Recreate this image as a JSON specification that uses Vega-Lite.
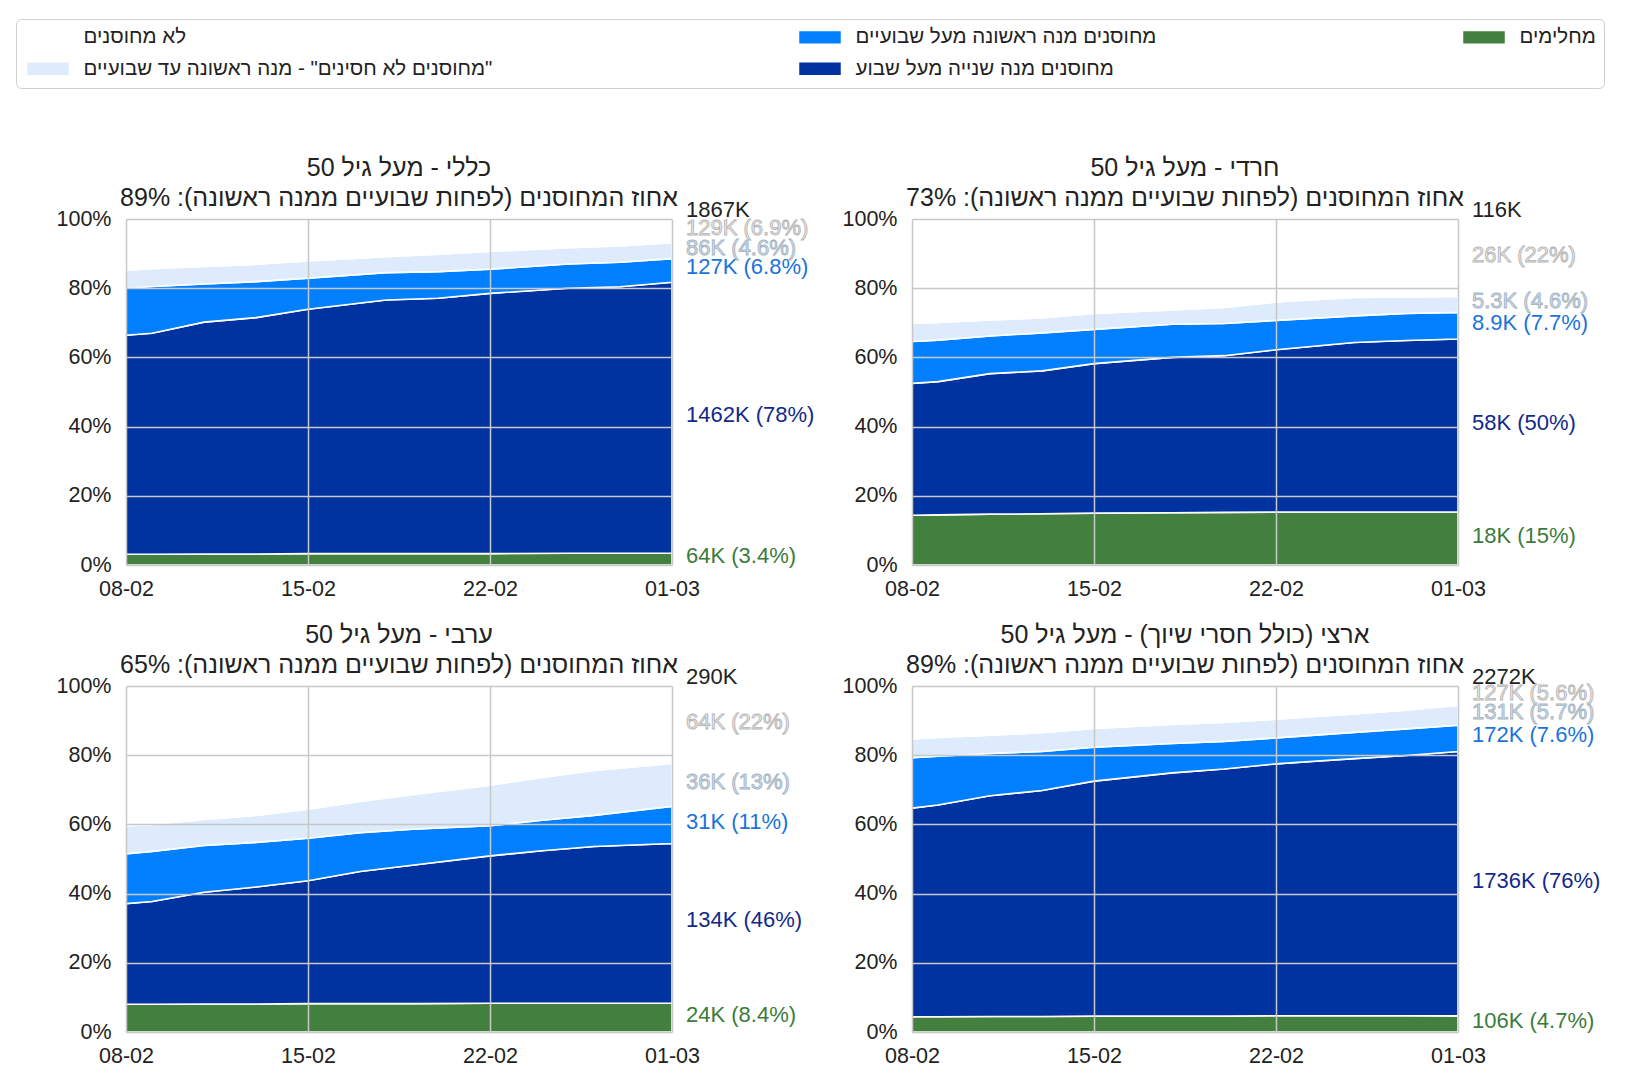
{
  "$schema": "https://vega.github.io/schema/vega-lite/v6.json",
  "autosize": {"type": "pad"},
  "padding": {"left": 15, "top": 18, "right": 5, "bottom": 5},
  "background": "white",
  "datasets": {
    "series": [
      {"k": "g", "name": "מחלימים", "o": 1},
      {"k": "d", "name": "מחוסנים מנה שנייה מעל שבוע", "o": 2},
      {"k": "b", "name": "מחוסנים מנה ראשונה מעל שבועיים", "o": 3},
      {"k": "l", "name": "\u200f\"מחוסנים לא חסינים\" - מנה ראשונה עד שבועיים", "o": 4},
      {"k": "u", "name": "לא מחוסנים", "o": 5}
    ],
    "main": [
      {"p": "A", "date": "2021-02-08", "g": 3.1, "d": 63.3, "b": 13.6, "l": 5.2, "u": 14.8},
      {"p": "A", "date": "2021-02-09", "g": 3.1, "d": 63.9, "b": 13.5, "l": 5.1, "u": 14.4},
      {"p": "A", "date": "2021-02-11", "g": 3.2, "d": 67.0, "b": 11.0, "l": 5.1, "u": 13.7},
      {"p": "A", "date": "2021-02-13", "g": 3.2, "d": 68.3, "b": 10.4, "l": 5.0, "u": 13.1},
      {"p": "A", "date": "2021-02-15", "g": 3.3, "d": 70.6, "b": 9.0, "l": 5.0, "u": 12.1},
      {"p": "A", "date": "2021-02-18", "g": 3.3, "d": 73.3, "b": 7.9, "l": 4.6, "u": 10.9},
      {"p": "A", "date": "2021-02-20", "g": 3.3, "d": 73.8, "b": 7.7, "l": 5.0, "u": 10.2},
      {"p": "A", "date": "2021-02-22", "g": 3.3, "d": 75.2, "b": 7.0, "l": 5.1, "u": 9.4},
      {"p": "A", "date": "2021-02-25", "g": 3.4, "d": 76.6, "b": 7.0, "l": 4.7, "u": 8.3},
      {"p": "A", "date": "2021-02-27", "g": 3.4, "d": 77.0, "b": 7.1, "l": 4.7, "u": 7.8},
      {"p": "A", "date": "2021-03-01", "g": 3.43, "d": 78.31, "b": 6.8, "l": 4.61, "u": 6.85},
      {"p": "B", "date": "2021-02-08", "g": 14.4, "d": 38.1, "b": 12.1, "l": 5.2, "u": 30.2},
      {"p": "B", "date": "2021-02-09", "g": 14.5, "d": 38.5, "b": 12.0, "l": 5.1, "u": 29.9},
      {"p": "B", "date": "2021-02-11", "g": 14.7, "d": 40.6, "b": 10.9, "l": 4.6, "u": 29.2},
      {"p": "B", "date": "2021-02-13", "g": 14.8, "d": 41.3, "b": 11.0, "l": 4.3, "u": 28.6},
      {"p": "B", "date": "2021-02-15", "g": 15.0, "d": 43.2, "b": 9.9, "l": 4.6, "u": 27.3},
      {"p": "B", "date": "2021-02-18", "g": 15.1, "d": 44.9, "b": 9.6, "l": 4.1, "u": 26.3},
      {"p": "B", "date": "2021-02-20", "g": 15.2, "d": 45.3, "b": 9.3, "l": 4.6, "u": 25.6},
      {"p": "B", "date": "2021-02-22", "g": 15.3, "d": 46.9, "b": 8.5, "l": 5.3, "u": 24.0},
      {"p": "B", "date": "2021-02-25", "g": 15.3, "d": 49.0, "b": 7.7, "l": 5.3, "u": 22.7},
      {"p": "B", "date": "2021-02-27", "g": 15.3, "d": 49.6, "b": 7.8, "l": 4.8, "u": 22.5},
      {"p": "B", "date": "2021-03-01", "g": 15.3, "d": 50.0, "b": 7.7, "l": 4.6, "u": 22.4},
      {"p": "C", "date": "2021-02-08", "g": 8.0, "d": 29.1, "b": 14.4, "l": 8.1, "u": 40.4},
      {"p": "C", "date": "2021-02-09", "g": 8.0, "d": 29.7, "b": 14.5, "l": 7.8, "u": 40.0},
      {"p": "C", "date": "2021-02-11", "g": 8.1, "d": 32.3, "b": 13.5, "l": 7.5, "u": 38.6},
      {"p": "C", "date": "2021-02-13", "g": 8.1, "d": 33.8, "b": 12.9, "l": 7.8, "u": 37.4},
      {"p": "C", "date": "2021-02-15", "g": 8.2, "d": 35.5, "b": 12.3, "l": 8.4, "u": 35.6},
      {"p": "C", "date": "2021-02-17", "g": 8.2, "d": 38.2, "b": 11.2, "l": 9.0, "u": 33.4},
      {"p": "C", "date": "2021-02-19", "g": 8.2, "d": 40.0, "b": 10.4, "l": 10.0, "u": 31.4},
      {"p": "C", "date": "2021-02-22", "g": 8.3, "d": 42.6, "b": 8.7, "l": 11.7, "u": 28.7},
      {"p": "C", "date": "2021-02-24", "g": 8.3, "d": 44.1, "b": 8.8, "l": 12.4, "u": 26.4},
      {"p": "C", "date": "2021-02-26", "g": 8.3, "d": 45.3, "b": 9.0, "l": 13.0, "u": 24.4},
      {"p": "C", "date": "2021-03-01", "g": 8.3, "d": 46.2, "b": 10.7, "l": 12.4, "u": 22.4},
      {"p": "D", "date": "2021-02-08", "g": 4.4, "d": 60.3, "b": 14.6, "l": 5.4, "u": 15.3},
      {"p": "D", "date": "2021-02-09", "g": 4.4, "d": 61.2, "b": 14.1, "l": 5.4, "u": 14.9},
      {"p": "D", "date": "2021-02-11", "g": 4.5, "d": 63.8, "b": 12.2, "l": 5.3, "u": 14.2},
      {"p": "D", "date": "2021-02-13", "g": 4.5, "d": 65.3, "b": 11.3, "l": 5.4, "u": 13.5},
      {"p": "D", "date": "2021-02-15", "g": 4.6, "d": 67.9, "b": 9.8, "l": 5.4, "u": 12.3},
      {"p": "D", "date": "2021-02-18", "g": 4.6, "d": 70.3, "b": 8.5, "l": 5.5, "u": 11.1},
      {"p": "D", "date": "2021-02-20", "g": 4.6, "d": 71.4, "b": 8.0, "l": 5.5, "u": 10.5},
      {"p": "D", "date": "2021-02-22", "g": 4.7, "d": 72.8, "b": 7.5, "l": 5.4, "u": 9.6},
      {"p": "D", "date": "2021-02-25", "g": 4.7, "d": 74.3, "b": 7.6, "l": 5.3, "u": 8.1},
      {"p": "D", "date": "2021-02-27", "g": 4.7, "d": 75.2, "b": 7.7, "l": 5.4, "u": 7.0},
      {"p": "D", "date": "2021-03-01", "g": 4.67, "d": 76.4, "b": 7.57, "l": 5.77, "u": 5.59}
    ],
    "labels": [
      {"p": "A", "k": "g", "v": 3.43, "txt": "64K (3.4%)"},
      {"p": "A", "k": "d", "v": 78.31, "txt": "1462K (78%)"},
      {"p": "A", "k": "b", "v": 6.8, "txt": "127K (6.8%)"},
      {"p": "A", "k": "l", "v": 4.61, "txt": "86K (4.6%)"},
      {"p": "A", "k": "u", "v": 6.85, "txt": "129K (6.9%)"},
      {"p": "B", "k": "g", "v": 15.3, "txt": "18K (15%)"},
      {"p": "B", "k": "d", "v": 50.0, "txt": "58K (50%)"},
      {"p": "B", "k": "b", "v": 7.7, "txt": "8.9K (7.7%)"},
      {"p": "B", "k": "l", "v": 4.6, "txt": "5.3K (4.6%)"},
      {"p": "B", "k": "u", "v": 22.4, "txt": "26K (22%)"},
      {"p": "C", "k": "g", "v": 8.3, "txt": "24K (8.4%)"},
      {"p": "C", "k": "d", "v": 46.2, "txt": "134K (46%)"},
      {"p": "C", "k": "b", "v": 10.7, "txt": "31K (11%)"},
      {"p": "C", "k": "l", "v": 12.4, "txt": "36K (13%)"},
      {"p": "C", "k": "u", "v": 22.4, "txt": "64K (22%)"},
      {"p": "D", "k": "g", "v": 4.67, "txt": "106K (4.7%)"},
      {"p": "D", "k": "d", "v": 76.4, "txt": "1736K (76%)"},
      {"p": "D", "k": "b", "v": 7.57, "txt": "172K (7.6%)"},
      {"p": "D", "k": "l", "v": 5.77, "txt": "131K (5.7%)"},
      {"p": "D", "k": "u", "v": 5.59, "txt": "127K (5.6%)"}
    ],
    "totals": [
      {"p": "A", "txt": "1867K"},
      {"p": "B", "txt": "116K"},
      {"p": "C", "txt": "290K"},
      {"p": "D", "txt": "2272K"}
    ]
  },
  "columns": 2,
  "spacing": {"row": 121, "column": 240},
  "bounds": "flush",
  "concat": [
    {
      "width": 546, "height": 346,
      "title": {"text": ["כללי - מעל גיל 50", "אחוז המחוסנים (לפחות שבועיים ממנה ראשונה): 89%"]},
      "layer": [
        {
          "data": {"name": "main"},
          "transform": [
            {"filter": "datum.p == 'A'"},
            {"fold": ["g", "d", "b", "l", "u"], "as": ["k", "v"]},
            {"lookup": "k", "from": {"data": {"name": "series"}, "key": "k", "fields": ["name", "o"]}}
          ],
          "mark": {"type": "area", "stroke": "white", "strokeWidth": 1.6},
          "encoding": {
            "x": {"field": "date", "type": "temporal", "scale": {"type": "utc", "domain": [{"year": 2021, "month": 2, "date": 8, "utc": true}, {"year": 2021, "month": 3, "date": 1, "utc": true}], "nice": false},
              "axis": {"title": null, "zindex": 1, "format": "%d-%m", "values": [{"year": 2021, "month": 2, "date": 8, "utc": true}, {"year": 2021, "month": 2, "date": 15, "utc": true}, {"year": 2021, "month": 2, "date": 22, "utc": true}, {"year": 2021, "month": 3, "date": 1, "utc": true}], "labelPadding": 13, "labelFlush": false, "labelAngle": 0}},
            "y": {"field": "v", "type": "quantitative", "stack": "zero", "scale": {"domain": [0, 100], "nice": false},
              "axis": {"title": null, "zindex": 1, "values": [0, 20, 40, 60, 80, 100], "labelExpr": "datum.value + '%'", "labelPadding": 15, "labelFlush": false}},
            "color": {"field": "name", "type": "nominal",
              "scale": {"domain": ["לא מחוסנים", "מחוסנים מנה ראשונה מעל שבועיים", "מחלימים", "\u200f\"מחוסנים לא חסינים\" - מנה ראשונה עד שבועיים", "מחוסנים מנה שנייה מעל שבוע"],
                        "range": ["#ffffff", "#0080ff", "#43803f", "#ddebfc", "#0033a0"]},
              "legend": {"title": null, "orient": "none", "legendX": -110, "legendY": -200, "direction": "horizontal", "columns": 3,
                "symbolType": "M-1,-0.89H4.93V0.89H-1Z", "symbolSize": 196, "symbolStrokeWidth": 0, "symbolOpacity": 1,
                "labelFontSize": 20.5, "labelColor": "#222", "labelLimit": 800, "labelOffset": 39,
                "columnPadding": 303, "rowPadding": 10.5, "padding": 8,
                "strokeColor": "#d0d0d0", "fillColor": "white", "cornerRadius": 5}},
            "order": {"field": "o", "type": "quantitative"}
          }
        },
        {
          "data": {"name": "labels"},
          "transform": [
            {"filter": "datum.p == 'A'"},
            {"lookup": "k", "from": {"data": {"name": "series"}, "key": "k", "fields": ["o"]}},
            {"stack": "v", "groupby": ["p"], "sort": [{"field": "o", "order": "ascending"}], "as": ["y0", "y1"]},
            {"calculate": "(datum.y0 + datum.y1) / 2", "as": "mid"}
          ],
          "mark": {"type": "text", "align": "left", "baseline": "middle", "dx": 14, "dy": -3, "fontSize": 22, "strokeWidth": 0.9},
          "encoding": {
            "x": {"datum": {"year": 2021, "month": 3, "date": 1, "utc": true}, "type": "temporal"},
            "y": {"field": "mid", "type": "quantitative"},
            "text": {"field": "txt"},
            "fill": {"field": "k", "type": "nominal", "scale": {"domain": ["u", "l", "b", "d", "g"], "range": ["#ededed", "#d3dfeb", "#1a73d9", "#12298a", "#3b7b3b"]}, "legend": null},
            "stroke": {"field": "k", "type": "nominal", "scale": {"domain": ["u", "l", "b", "d", "g"], "range": ["#b5b5b5", "#a6b4c3", "transparent", "transparent", "transparent"]}, "legend": null}
          }
        },
        {
          "data": {"name": "totals"},
          "transform": [{"filter": "datum.p == 'A'"}],
          "mark": {"type": "text", "align": "left", "baseline": "middle", "dx": 14, "dy": -9, "fontSize": 22, "fill": "#222"},
          "encoding": {
            "x": {"datum": {"year": 2021, "month": 3, "date": 1, "utc": true}, "type": "temporal"},
            "y": {"datum": 100, "type": "quantitative"},
            "text": {"field": "txt"}
          }
        }
      ]
    },
    {
      "width": 546, "height": 346,
      "title": {"text": ["חרדי - מעל גיל 50", "אחוז המחוסנים (לפחות שבועיים ממנה ראשונה): 73%"]},
      "layer": [
        {
          "data": {"name": "main"},
          "transform": [
            {"filter": "datum.p == 'B'"},
            {"fold": ["g", "d", "b", "l", "u"], "as": ["k", "v"]},
            {"lookup": "k", "from": {"data": {"name": "series"}, "key": "k", "fields": ["name", "o"]}}
          ],
          "mark": {"type": "area", "stroke": "white", "strokeWidth": 1.6},
          "encoding": {
            "x": {"field": "date", "type": "temporal", "scale": {"type": "utc", "domain": [{"year": 2021, "month": 2, "date": 8, "utc": true}, {"year": 2021, "month": 3, "date": 1, "utc": true}], "nice": false},
              "axis": {"title": null, "zindex": 1, "format": "%d-%m", "values": [{"year": 2021, "month": 2, "date": 8, "utc": true}, {"year": 2021, "month": 2, "date": 15, "utc": true}, {"year": 2021, "month": 2, "date": 22, "utc": true}, {"year": 2021, "month": 3, "date": 1, "utc": true}], "labelPadding": 13, "labelFlush": false, "labelAngle": 0}},
            "y": {"field": "v", "type": "quantitative", "stack": "zero", "scale": {"domain": [0, 100], "nice": false},
              "axis": {"title": null, "zindex": 1, "values": [0, 20, 40, 60, 80, 100], "labelExpr": "datum.value + '%'", "labelPadding": 15, "labelFlush": false}},
            "color": {"field": "name", "type": "nominal"},
            "order": {"field": "o", "type": "quantitative"}
          }
        },
        {
          "data": {"name": "labels"},
          "transform": [
            {"filter": "datum.p == 'B'"},
            {"lookup": "k", "from": {"data": {"name": "series"}, "key": "k", "fields": ["o"]}},
            {"stack": "v", "groupby": ["p"], "sort": [{"field": "o", "order": "ascending"}], "as": ["y0", "y1"]},
            {"calculate": "(datum.y0 + datum.y1) / 2", "as": "mid"}
          ],
          "mark": {"type": "text", "align": "left", "baseline": "middle", "dx": 14, "dy": -3, "fontSize": 22, "strokeWidth": 0.9},
          "encoding": {
            "x": {"datum": {"year": 2021, "month": 3, "date": 1, "utc": true}, "type": "temporal"},
            "y": {"field": "mid", "type": "quantitative"},
            "text": {"field": "txt"},
            "fill": {"field": "k", "type": "nominal", "legend": null},
            "stroke": {"field": "k", "type": "nominal", "legend": null}
          }
        },
        {
          "data": {"name": "totals"},
          "transform": [{"filter": "datum.p == 'B'"}],
          "mark": {"type": "text", "align": "left", "baseline": "middle", "dx": 14, "dy": -9, "fontSize": 22, "fill": "#222"},
          "encoding": {
            "x": {"datum": {"year": 2021, "month": 3, "date": 1, "utc": true}, "type": "temporal"},
            "y": {"datum": 100, "type": "quantitative"},
            "text": {"field": "txt"}
          }
        }
      ]
    },
    {
      "width": 546, "height": 346,
      "title": {"text": ["ערבי - מעל גיל 50", "אחוז המחוסנים (לפחות שבועיים ממנה ראשונה): 65%"]},
      "layer": [
        {
          "data": {"name": "main"},
          "transform": [
            {"filter": "datum.p == 'C'"},
            {"fold": ["g", "d", "b", "l", "u"], "as": ["k", "v"]},
            {"lookup": "k", "from": {"data": {"name": "series"}, "key": "k", "fields": ["name", "o"]}}
          ],
          "mark": {"type": "area", "stroke": "white", "strokeWidth": 1.6},
          "encoding": {
            "x": {"field": "date", "type": "temporal", "scale": {"type": "utc", "domain": [{"year": 2021, "month": 2, "date": 8, "utc": true}, {"year": 2021, "month": 3, "date": 1, "utc": true}], "nice": false},
              "axis": {"title": null, "zindex": 1, "format": "%d-%m", "values": [{"year": 2021, "month": 2, "date": 8, "utc": true}, {"year": 2021, "month": 2, "date": 15, "utc": true}, {"year": 2021, "month": 2, "date": 22, "utc": true}, {"year": 2021, "month": 3, "date": 1, "utc": true}], "labelPadding": 13, "labelFlush": false, "labelAngle": 0}},
            "y": {"field": "v", "type": "quantitative", "stack": "zero", "scale": {"domain": [0, 100], "nice": false},
              "axis": {"title": null, "zindex": 1, "values": [0, 20, 40, 60, 80, 100], "labelExpr": "datum.value + '%'", "labelPadding": 15, "labelFlush": false}},
            "color": {"field": "name", "type": "nominal"},
            "order": {"field": "o", "type": "quantitative"}
          }
        },
        {
          "data": {"name": "labels"},
          "transform": [
            {"filter": "datum.p == 'C'"},
            {"lookup": "k", "from": {"data": {"name": "series"}, "key": "k", "fields": ["o"]}},
            {"stack": "v", "groupby": ["p"], "sort": [{"field": "o", "order": "ascending"}], "as": ["y0", "y1"]},
            {"calculate": "(datum.y0 + datum.y1) / 2", "as": "mid"}
          ],
          "mark": {"type": "text", "align": "left", "baseline": "middle", "dx": 14, "dy": -3, "fontSize": 22, "strokeWidth": 0.9},
          "encoding": {
            "x": {"datum": {"year": 2021, "month": 3, "date": 1, "utc": true}, "type": "temporal"},
            "y": {"field": "mid", "type": "quantitative"},
            "text": {"field": "txt"},
            "fill": {"field": "k", "type": "nominal", "legend": null},
            "stroke": {"field": "k", "type": "nominal", "legend": null}
          }
        },
        {
          "data": {"name": "totals"},
          "transform": [{"filter": "datum.p == 'C'"}],
          "mark": {"type": "text", "align": "left", "baseline": "middle", "dx": 14, "dy": -9, "fontSize": 22, "fill": "#222"},
          "encoding": {
            "x": {"datum": {"year": 2021, "month": 3, "date": 1, "utc": true}, "type": "temporal"},
            "y": {"datum": 100, "type": "quantitative"},
            "text": {"field": "txt"}
          }
        }
      ]
    },
    {
      "width": 546, "height": 346,
      "title": {"text": ["ארצי (כולל חסרי שיוך) - מעל גיל 50", "אחוז המחוסנים (לפחות שבועיים ממנה ראשונה): 89%"]},
      "layer": [
        {
          "data": {"name": "main"},
          "transform": [
            {"filter": "datum.p == 'D'"},
            {"fold": ["g", "d", "b", "l", "u"], "as": ["k", "v"]},
            {"lookup": "k", "from": {"data": {"name": "series"}, "key": "k", "fields": ["name", "o"]}}
          ],
          "mark": {"type": "area", "stroke": "white", "strokeWidth": 1.6},
          "encoding": {
            "x": {"field": "date", "type": "temporal", "scale": {"type": "utc", "domain": [{"year": 2021, "month": 2, "date": 8, "utc": true}, {"year": 2021, "month": 3, "date": 1, "utc": true}], "nice": false},
              "axis": {"title": null, "zindex": 1, "format": "%d-%m", "values": [{"year": 2021, "month": 2, "date": 8, "utc": true}, {"year": 2021, "month": 2, "date": 15, "utc": true}, {"year": 2021, "month": 2, "date": 22, "utc": true}, {"year": 2021, "month": 3, "date": 1, "utc": true}], "labelPadding": 13, "labelFlush": false, "labelAngle": 0}},
            "y": {"field": "v", "type": "quantitative", "stack": "zero", "scale": {"domain": [0, 100], "nice": false},
              "axis": {"title": null, "zindex": 1, "values": [0, 20, 40, 60, 80, 100], "labelExpr": "datum.value + '%'", "labelPadding": 15, "labelFlush": false}},
            "color": {"field": "name", "type": "nominal"},
            "order": {"field": "o", "type": "quantitative"}
          }
        },
        {
          "data": {"name": "labels"},
          "transform": [
            {"filter": "datum.p == 'D'"},
            {"lookup": "k", "from": {"data": {"name": "series"}, "key": "k", "fields": ["o"]}},
            {"stack": "v", "groupby": ["p"], "sort": [{"field": "o", "order": "ascending"}], "as": ["y0", "y1"]},
            {"calculate": "(datum.y0 + datum.y1) / 2", "as": "mid"}
          ],
          "mark": {"type": "text", "align": "left", "baseline": "middle", "dx": 14, "dy": -3, "fontSize": 22, "strokeWidth": 0.9},
          "encoding": {
            "x": {"datum": {"year": 2021, "month": 3, "date": 1, "utc": true}, "type": "temporal"},
            "y": {"field": "mid", "type": "quantitative"},
            "text": {"field": "txt"},
            "fill": {"field": "k", "type": "nominal", "legend": null},
            "stroke": {"field": "k", "type": "nominal", "legend": null}
          }
        },
        {
          "data": {"name": "totals"},
          "transform": [{"filter": "datum.p == 'D'"}],
          "mark": {"type": "text", "align": "left", "baseline": "middle", "dx": 14, "dy": -9, "fontSize": 22, "fill": "#222"},
          "encoding": {
            "x": {"datum": {"year": 2021, "month": 3, "date": 1, "utc": true}, "type": "temporal"},
            "y": {"datum": 100, "type": "quantitative"},
            "text": {"field": "txt"}
          }
        }
      ]
    }
  ],
  "config": {
    "font": "Liberation Sans",
    "view": {"stroke": null},
    "axis": {"labelFontSize": 21.5, "labelColor": "#222", "ticks": false, "domain": false, "grid": true, "gridColor": "#c8c8c8", "gridWidth": 1.5, "zindex": 1},
    "title": {"fontSize": 25, "fontWeight": "normal", "color": "#222", "anchor": "middle", "frame": "group", "baseline": "bottom", "lineHeight": 30, "offset": -12}
  }
}
